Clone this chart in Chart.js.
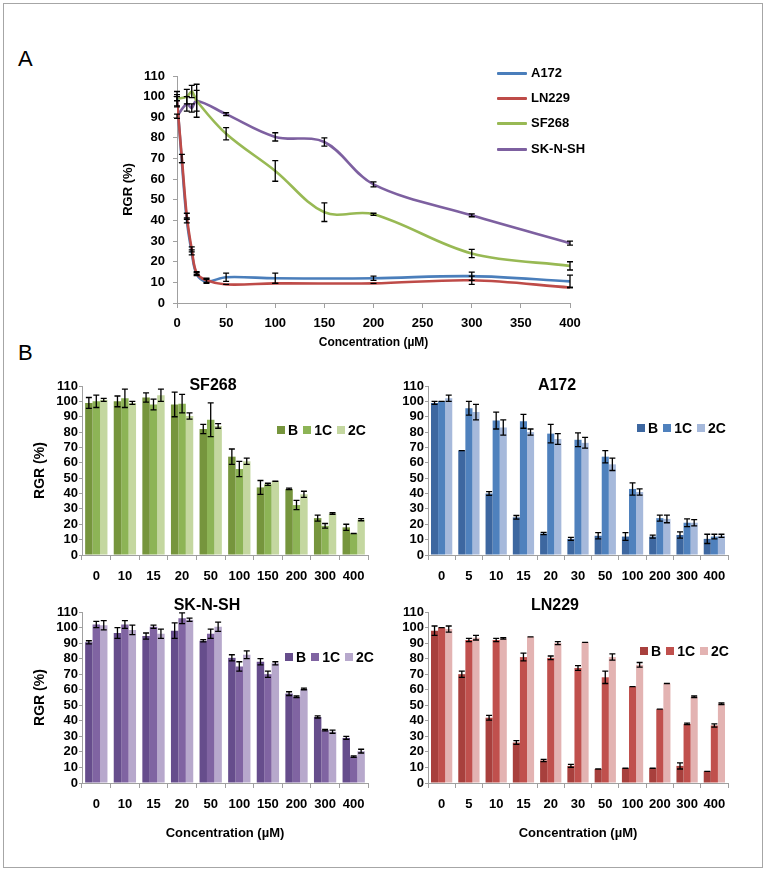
<!DOCTYPE html>
<html>
<head>
<meta charset="utf-8">
<script src="https://cdn.jsdelivr.net/npm/chart.js@4.4.1/dist/chart.umd.min.js"></script>
<style>
  body { margin: 0; background: #fff; }
  #page { position: relative; width: 766px; height: 872px; font-family: 'Liberation Sans', Arial, sans-serif; overflow: hidden; }
  #frame { position: absolute; left: 3px; top: 3px; width: 758px; height: 863px; border: 1px solid #a6a6a6; }
  .box { position: absolute; }
  .letter { position: absolute; font-size: 22px; line-height: 22px; }
  .ttl { position: absolute; font-weight: bold; font-size: 16px; transform: translate(-50%, -50%); white-space: nowrap; }
  .legA { position: absolute; font-weight: bold; font-size: 13px; white-space: nowrap; }
  .legA i { display: inline-block; width: 30px; height: 3px; vertical-align: middle; margin-right: 4px; border-radius: 1px; }
  .legB { position: absolute; font-weight: bold; font-size: 14px; white-space: nowrap; transform: translateY(-50%); }
  .legB span { margin-right: 5px; }
  .legB i { display: inline-block; width: 8px; height: 8px; margin-right: 3px; vertical-align: 1px; }
</style>
</head>
<body>
<div id="page">
  <div id="frame"></div>
  <div class="letter" style="left:18px;top:48px;">A</div>
  <div class="letter" style="left:18px;top:342px;">B</div>

  <div class="box" style="left:100px;top:60px;"><canvas id="chartA" width="500" height="300"></canvas></div>
  <div id="legendA"></div>

  <div class="box" style="left:20px;top:370px;"><canvas id="chartSF" width="360" height="225"></canvas></div>
  <div class="box" style="left:380px;top:370px;"><canvas id="chartA172" width="370" height="225"></canvas></div>
  <div class="box" style="left:20px;top:590px;"><canvas id="chartSK" width="360" height="262"></canvas></div>
  <div class="box" style="left:380px;top:590px;"><canvas id="chartLN" width="370" height="262"></canvas></div>
  <div id="extras"></div>
</div>
<script>
// concentrations (uM)
const concAL = ['0', '5', '10', '15', '20', '30', '50', '100', '200', '300', '400'];
const concSK = ['0', '10', '15', '20', '50', '100', '150', '200', '300', '400'];
const seriesNames = ['B', '1C', '2C'];

// SF268
const sfB = [99, 100, 102.5, 98, 82, 64, 44, 43, 24, 18];
const sfBErr = [3.5, 3.5, 3, 8, 3, 5, 4.5, 0.5, 2, 2];
const sf1C = [100, 102, 98, 98.5, 88, 56, 46, 32.5, 19, 14];
const sf1CErr = [4, 6, 3.5, 6, 11, 5, 0.7, 3, 1.5, 0];
const sf2C = [101, 99, 104, 90.5, 84, 61, 48, 39.5, 27, 23];
const sf2CErr = [1, 1, 4, 2, 1.5, 2, 0, 2, 0.5, 0.7];

// A172
const a172B = [99, 68, 40, 24.5, 14, 10.5, 12.5, 12, 12, 13, 10.5];
const a172BErr = [1, 0, 1.2, 1.2, 0.7, 1, 2, 2.5, 1, 2, 3];
const a1721C = [100, 95.5, 87.5, 87, 79, 75, 64, 43, 24, 21, 12];
const a1721CErr = [0, 4.5, 5.5, 4.5, 6, 4.5, 4, 4, 2, 2.5, 1.5];
const a1722C = [102, 93, 83, 80, 75.5, 73, 59, 41, 23.5, 21, 12.5];
const a1722CErr = [2, 5, 5, 2, 3.5, 3.5, 4, 2, 2.5, 2, 1];

// SK-N-SH
const skB = [90.5, 96.5, 94.5, 98, 91.5, 80.5, 78, 57.5, 42.5, 29];
const skBErr = [1, 3.5, 2, 5, 0.7, 2, 2, 1.2, 0.7, 1];
const sk1C = [102, 102, 100.5, 106, 96, 75, 70, 55.5, 34, 17];
const sk1CErr = [2, 2.5, 1, 3.5, 3, 3, 2, 0.5, 0.5, 0.5];
const sk2C = [101.5, 98.5, 96, 105, 100.5, 82.5, 77, 60.5, 33, 20.5];
const sk2CErr = [3, 3, 3, 1, 3, 2.5, 1, 0.5, 1, 1.2];

// LN229
const lnB = [98, 70, 42, 26, 14.5, 11, 9, 9.5, 9.5, 11, 7.5];
const lnBErr = [3, 2, 1.5, 1.2, 0.7, 1, 0, 0, 0, 2, 0];
const ln1C = [100, 92, 92, 81, 80.5, 74, 68, 62, 47.5, 38, 37];
const ln1CErr = [0, 1, 1, 2.5, 1.2, 1.5, 4, 0, 0, 0.5, 1];
const ln2C = [99, 93.5, 93, 94, 90, 90.5, 81, 76, 64, 55.5, 51];
const ln2CErr = [2, 1.5, 0.5, 0, 1, 0, 2, 1.5, 0, 0.5, 0.5];

const lineColors = { A172: '#4a7ebb', LN229: '#be4b48', SF268: '#98b954', 'SK-N-SH': '#7d60a0' };
const greens = ['#76953d', '#8db456', '#c4d7a0'];
const blues = ['#3d67a0', '#4f81bd', '#a6b9db'];
const purples = ['#664d8c', '#8064a2', '#b7a8cc'];
const reds = ['#a8403d', '#c0504d', '#e3b3b2'];

const FONT = "'Liberation Sans', Arial, sans-serif";
const AXIS_GREY = '#a0a0a0';

// draws +/- error bars for any dataset that carries an errors array
const errorBarPlugin = {
    id: 'errorBars',
    afterDatasetsDraw(chart) {
        const ctx = chart.ctx;
        const yScale = chart.scales.y;
        ctx.save();
        ctx.strokeStyle = '#000';
        ctx.lineWidth = 1.3;
        chart.data.datasets.forEach((ds, i) => {
            if (!ds.errors) return;
            const meta = chart.getDatasetMeta(i);
            meta.data.forEach((el, j) => {
                const v = meta.controller.getParsed(j).y;
                const e = ds.errors[j];
                const top = yScale.getPixelForValue(v + e);
                const bot = yScale.getPixelForValue(v - e);
                const x = el.x;
                const w = 3;
                ctx.beginPath();
                ctx.moveTo(x, top); ctx.lineTo(x, bot);
                ctx.moveTo(x - w, top); ctx.lineTo(x + w, top);
                ctx.moveTo(x - w, bot); ctx.lineTo(x + w, bot);
                ctx.stroke();
            });
        });
        ctx.restore();
    }
};

// ---- panel A: line chart ----
function pts(xs, ys) {
    return xs.map((c, i) => ({ x: Number(c), y: ys[i] }));
}

const lineSets = [
    { label: 'A172', data: pts(concAL, a172B), errors: a172BErr, order: 2 },
    { label: 'LN229', data: pts(concAL, lnB), errors: lnBErr, order: 1 },
    { label: 'SF268', data: pts(concSK, sfB), errors: sfBErr, order: 3 },
    { label: 'SK-N-SH', data: pts(concSK, skB), errors: skBErr, order: 4 }
];

new Chart(document.getElementById('chartA').getContext('2d'), {
    type: 'line',
    data: {
        datasets: lineSets.map(s => ({
            label: s.label,
            data: s.data,
            errors: s.errors,
            order: s.order,
            borderColor: lineColors[s.label],
            borderWidth: 2.6,
            pointRadius: 0,
            tension: 0.35,
            fill: false
        }))
    },
    options: {
        responsive: false,
        animation: false,
        layout: { padding: { top: 16, right: 30, bottom: 0, left: 0 } },
        plugins: { legend: { display: false }, tooltip: { enabled: false } },
        scales: {
            x: {
                type: 'linear', min: 0, max: 400,
                afterFit(scale) { scale.height = 57; },
                ticks: { stepSize: 50, color: '#000', padding: 8, autoSkip: false, font: { family: FONT, size: 13, weight: 'bold' } },
                grid: { drawOnChartArea: false, tickLength: 5, color: AXIS_GREY },
                border: { color: AXIS_GREY },
                title: { display: true, text: 'Concentration (µM)', color: '#000', padding: { top: 0, bottom: 10 },
                         font: { family: FONT, size: 12, weight: 'bold' } }
            },
            y: {
                min: 0, max: 110,
                afterFit(scale) { scale.width = 77; },
                ticks: { stepSize: 10, color: '#000', padding: 8, autoSkip: false, font: { family: FONT, size: 13, weight: 'bold' } },
                grid: { drawOnChartArea: false, tickLength: 4, color: AXIS_GREY },
                border: { color: AXIS_GREY },
                title: { display: true, text: 'RGR (%)', color: '#000', padding: { top: 21, bottom: 0 },
                         font: { family: FONT, size: 13, weight: 'bold' } }
            }
        }
    },
    plugins: [errorBarPlugin]
});

// legend for panel A
const legendA = document.getElementById('legendA');
const legendARows = [73, 98, 123, 149];
['A172', 'LN229', 'SF268', 'SK-N-SH'].forEach((name, i) => {
    const d = document.createElement('div');
    d.className = 'legA';
    d.style.left = '497px';
    d.style.top = (legendARows[i] - 8) + 'px';
    d.innerHTML = '<i style="background:' + lineColors[name] + '"></i>' + name;
    legendA.appendChild(d);
});

// ---- panel B: grouped bar charts ----
function barChart(id, cfg) {
    const sets = cfg.values.map((vals, k) => ({
        label: seriesNames[k],
        data: vals,
        errors: cfg.errors[k],
        backgroundColor: cfg.colors[k],
        borderWidth: 0,
        categoryPercentage: 0.78,
        barPercentage: 1.0
    }));
    return new Chart(document.getElementById(id).getContext('2d'), {
        type: 'bar',
        data: { labels: cfg.labels, datasets: sets },
        options: {
            responsive: false,
            animation: false,
            layout: { padding: { top: cfg.padTop, right: cfg.padRight, bottom: 0, left: 0 } },
            plugins: { legend: { display: false }, tooltip: { enabled: false } },
            scales: {
                x: {
                    afterFit(scale) { scale.height = cfg.xHeight; },
                    ticks: { color: '#000', padding: 9, autoSkip: false, maxRotation: 0,
                             font: { family: FONT, size: 13, weight: 'bold' } },
                    grid: { offset: true, drawOnChartArea: false, tickLength: 5, color: AXIS_GREY },
                    border: { color: AXIS_GREY },
                    title: { display: cfg.xTitle, text: 'Concentration (µM)', color: '#000',
                             padding: { top: 0, bottom: 11 }, font: { family: FONT, size: 13, weight: 'bold' } }
                },
                y: {
                    min: 0, max: 110,
                    afterFit(scale) { scale.width = cfg.yWidth; },
                    ticks: { stepSize: 10, color: '#000', padding: 1, autoSkip: false,
                             font: { family: FONT, size: 13, weight: 'bold' } },
                    grid: { drawOnChartArea: false, tickLength: 3, color: AXIS_GREY },
                    border: { color: AXIS_GREY },
                    title: { display: cfg.yTitle, text: 'RGR (%)', color: '#000', padding: { top: 12, bottom: 0 },
                             font: { family: FONT, size: 14, weight: 'bold' } }
                }
            }
        },
        plugins: [errorBarPlugin]
    });
}

barChart('chartSF', {
    labels: concSK, values: [sfB, sf1C, sf2C], errors: [sfBErr, sf1CErr, sf2CErr], colors: greens,
    padTop: 16, padRight: 12, xHeight: 40, yWidth: 62, xTitle: false, yTitle: true
});
barChart('chartA172', {
    labels: concAL, values: [a172B, a1721C, a1722C], errors: [a172BErr, a1721CErr, a1722CErr], colors: blues,
    padTop: 16, padRight: 22, xHeight: 40, yWidth: 48, xTitle: false, yTitle: false
});
barChart('chartSK', {
    labels: concSK, values: [skB, sk1C, sk2C], errors: [skBErr, sk1CErr, sk2CErr], colors: purples,
    padTop: 22, padRight: 12, xHeight: 69, yWidth: 62, xTitle: true, yTitle: true
});
barChart('chartLN', {
    labels: concAL, values: [lnB, ln1C, ln2C], errors: [lnBErr, ln1CErr, ln2CErr], colors: reds,
    padTop: 22, padRight: 22, xHeight: 69, yWidth: 48, xTitle: true, yTitle: false
});

// titles and legends of the bar panels
const extras = document.getElementById('extras');
const panels = [
    { title: 'SF268', tx: 213, ty: 385, lx: 277, ly: 430, colors: greens },
    { title: 'A172', tx: 557, ty: 385, lx: 637, ly: 428, colors: blues },
    { title: 'SK-N-SH', tx: 207, ty: 605, lx: 285, ly: 657, colors: purples },
    { title: 'LN229', tx: 555, ty: 605, lx: 640, ly: 651, colors: reds }
];
panels.forEach(p => {
    const t = document.createElement('div');
    t.className = 'ttl';
    t.style.left = p.tx + 'px';
    t.style.top = p.ty + 'px';
    t.textContent = p.title;
    extras.appendChild(t);

    const l = document.createElement('div');
    l.className = 'legB';
    l.style.left = p.lx + 'px';
    l.style.top = p.ly + 'px';
    l.innerHTML = seriesNames.map((n, k) =>
        '<span><i style="background:' + p.colors[k] + '"></i>' + n + '</span>').join('');
    extras.appendChild(l);
});
</script>
</body>
</html>
